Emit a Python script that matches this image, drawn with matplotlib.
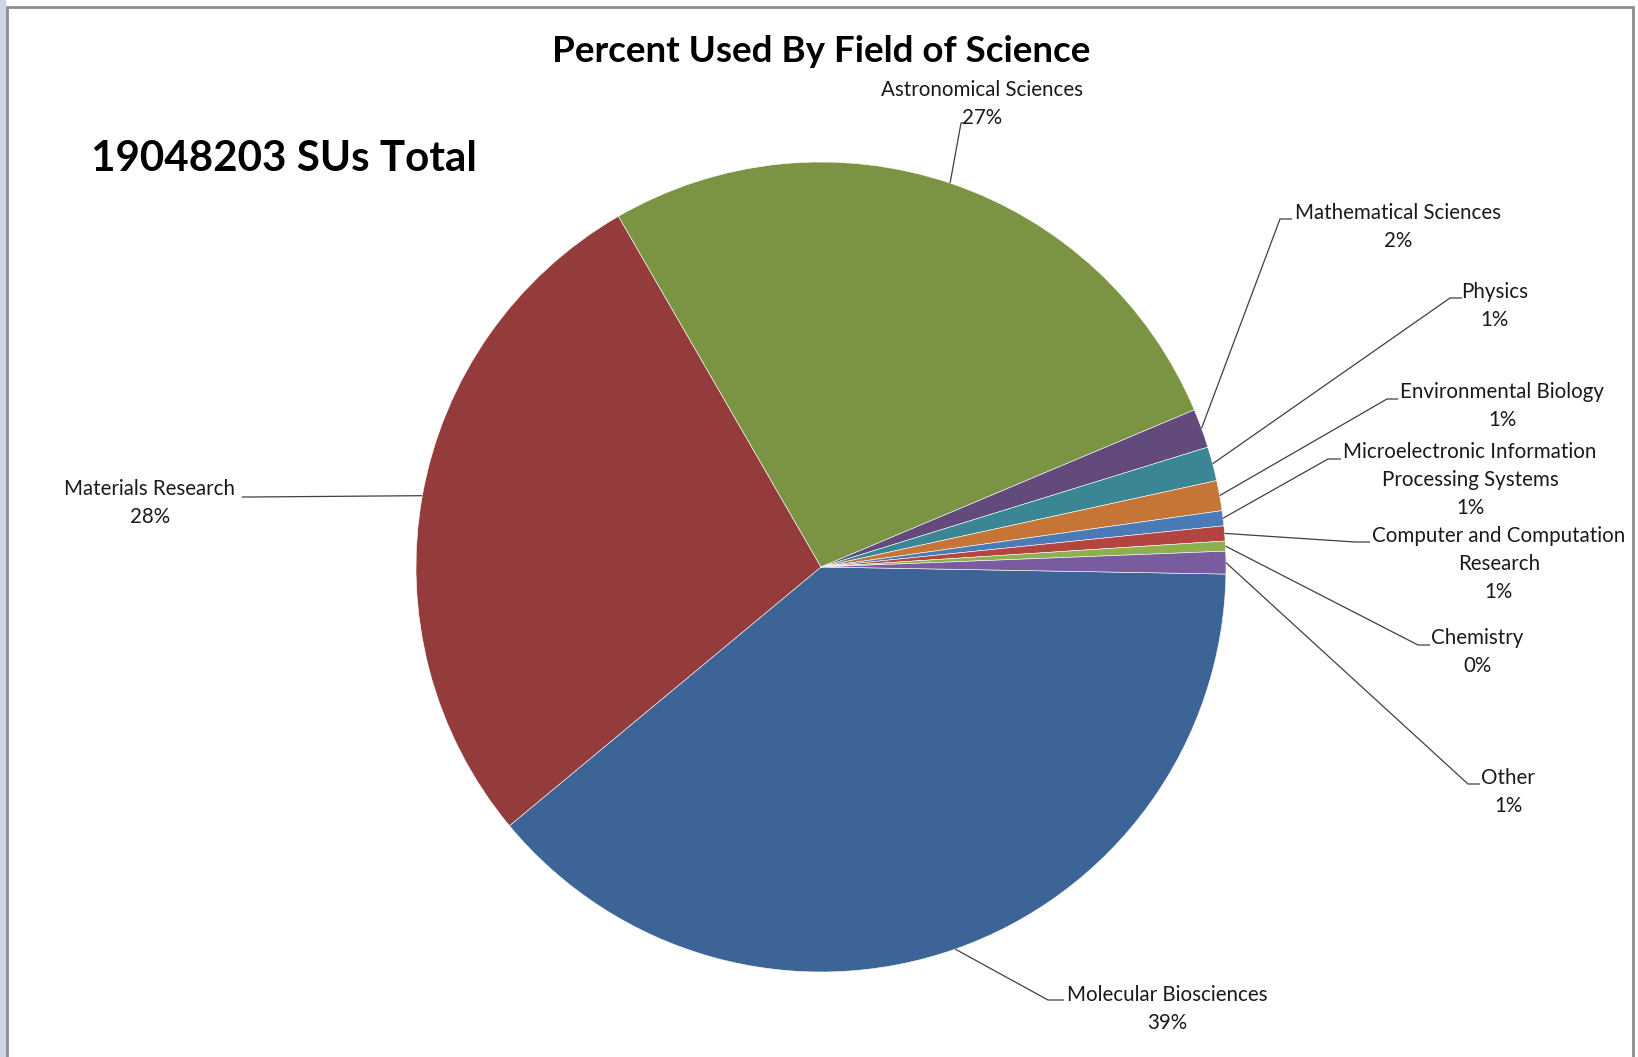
import matplotlib
matplotlib.use("Agg")
import matplotlib.pyplot as plt
from matplotlib.patches import Rectangle
import numpy as np

plt.rcParams['font.family'] = ['Lato', 'DejaVu Sans']

# ---- data ----
fields = ["Molecular Biosciences", "Materials Research", "Astronomical Sciences",
          "Mathematical Sciences", "Physics", "Environmental Biology",
          "Microelectronic Information\nProcessing Systems",
          "Computer and Computation\nResearch", "Chemistry", "Other"]
percent = [38.7, 27.7, 27.0, 1.56, 1.36, 1.2, 0.6, 0.6, 0.4, 0.9]
colors = ["#3C6496", "#943C3C", "#7A9444", "#624B7C", "#3A8695", "#C57535",
          "#4A7BB7", "#B3443F", "#8DB04E", "#795B9F"]
title = "Percent Used By Field of Science"
total_text = "19048203 SUs Total"

# ---- layout (pixel coordinates from top-left) ----
W, H = 1638, 1057
cx, cy, R = 821, 567, 405
# label block centre, elbow of leader line, stub end
label_pos = [(1167, 1009), (150, 503), (982, 104), (1398, 227), (1495, 306),
             (1502, 406), (1470, 480), (1499, 564), (1477, 652), (1508, 792)]
elbows = [(1048, 1000), (250, 497), (961, 123), (1280, 219), (1450, 298),
          (1387, 399), (1328, 459), (1355, 542), (1418, 645), (1468, 784)]
stubs = [(1064, 1000), (242, 497), (966, 123), (1292, 219), (1462, 298),
         (1398, 399), (1341, 459), (1370, 542), (1430, 645), (1480, 784)]

fig = plt.figure(figsize=(W / 100, H / 100), dpi=100)
ax = fig.add_axes([0, 0, 1, 1])

wedges, _ = ax.pie(percent, colors=colors, startangle=-1, counterclock=False,
                   center=(cx, H - cy), radius=R,
                   wedgeprops=dict(edgecolor="white", linewidth=0.4))
ax.set_xlim(0, W)
ax.set_ylim(0, H)
ax.set_aspect('equal')
ax.axis('off')

tot = sum(percent)
for i, w in enumerate(wedges):
    mid = np.deg2rad((w.theta1 + w.theta2) / 2)
    ax_x = cx + R * np.cos(mid)
    ax_y = (H - cy) + R * np.sin(mid)
    ex, ey = elbows[i]
    sx, sy = stubs[i]
    ax.plot([ax_x, ex, sx], [ax_y, H - ey, H - sy], color="#404040", lw=0.9,
            solid_capstyle='butt')
    lx, ly = label_pos[i]
    ax.text(lx, H - ly, f"{fields[i]}\n{percent[i] / tot * 100:.0f}%",
            ha='center', va='center', multialignment='center',
            fontsize=14.8, color="#1a1a1a", linespacing=1.5)

ax.text(821, H - 51, title, ha='center', va='center', fontsize=26.5,
        fontweight='bold', color='black')
ax.text(91, H - 159, total_text, ha='left', va='center', fontsize=30.3,
        fontweight='bold', color='black')

# chart border and window edge
fig.patches.append(Rectangle((0, 0), 6 / W, 1, transform=fig.transFigure,
                             facecolor="#CBD6E6", edgecolor='none'))
ax.add_patch(Rectangle((7, -20), 1626, H - 7 + 20, facecolor='none',
                       edgecolor="#8C8C8C", lw=2, clip_on=False))

fig.savefig("out.png", dpi=100, facecolor='white')
